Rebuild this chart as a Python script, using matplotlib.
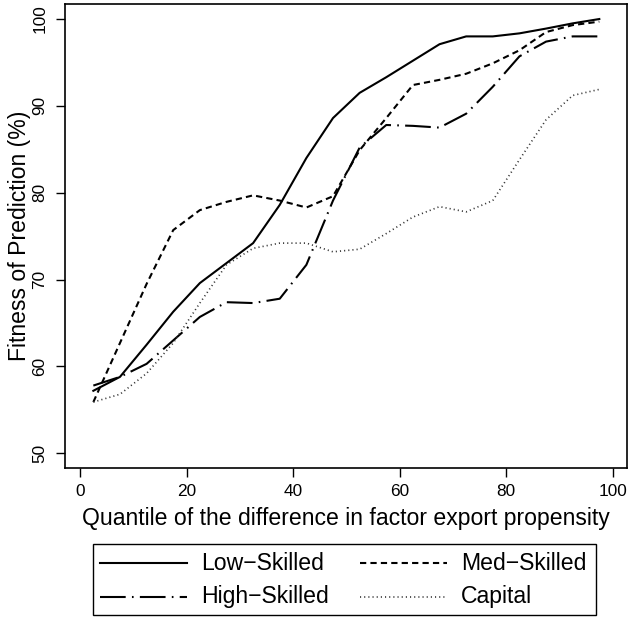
import matplotlib
matplotlib.use("Agg")
import matplotlib.pyplot as plt
from matplotlib.patches import Rectangle

plt.rcParams['font.family'] = ['Liberation Sans', 'DejaVu Sans']
plt.rcParams['lines.scale_dashes'] = False

quantiles = [2.5, 7.5, 12.5, 17.5, 22.5, 27.5, 32.5, 37.5, 42.5, 47.5,
             52.5, 57.5, 62.5, 67.5, 72.5, 77.5, 82.5, 87.5, 92.5, 97.5]
low_skilled = [57.2, 58.8, 62.5, 66.3, 69.6, 71.9, 74.2, 78.6, 84.0, 88.6,
               91.5, 93.3, 95.2, 97.1, 98.0, 98.0, 98.35, 98.9, 99.5, 100.0]
med_skilled = [55.9, 62.7, 69.5, 75.7, 78.0, 78.95, 79.7, 79.1, 78.3, 79.6,
               84.9, 88.6, 92.4, 93.0, 93.7, 94.9, 96.4, 98.5, 99.3, 99.7]
high_skilled = [57.8, 58.8, 60.3, 63.0, 65.7, 67.4, 67.3, 67.8, 71.7, 79.1,
                85.2, 87.8, 87.7, 87.5, 89.1, 92.2, 95.7, 97.4, 98.0, 98.0]
capital = [55.9, 56.8, 59.2, 62.7, 67.3, 71.7, 73.6, 74.2, 74.2, 73.2,
           73.5, 75.3, 77.2, 78.4, 77.8, 79.1, 83.8, 88.4, 91.2, 91.9]

labels = ['Low\u2212Skilled', 'Med\u2212Skilled', 'High\u2212Skilled', 'Capital']
x_ticks = [0, 20, 40, 60, 80, 100]
y_ticks = [50, 60, 70, 80, 90, 100]

W, H = 628, 618
fig = plt.figure(figsize=(W / 100, H / 100), dpi=100)
ax = fig.add_axes([65 / W, (H - 468) / H, (627 - 65) / W, (468 - 4) / H])

lw = 1.5
styles = [
    dict(linestyle='-', color='black', lw=lw),
    dict(linestyle=(0, (4.5, 3.0)), color='black', lw=lw),
    dict(linestyle=(0, (18.5, 4.5, 1.2, 4.5)), color='black', lw=lw),
    dict(linestyle=(0, (0.8, 2.2)), color='#333333', lw=1.2),
]
series = [low_skilled, med_skilled, high_skilled, capital]
for vals, st, lab in zip(series, styles, labels):
    ax.plot(quantiles, vals, label=lab, **st)

ax.set_xlim(-2.82, 102.7)
ax.set_ylim(48.31, 101.73)
ax.set_xticks(x_ticks)
ax.set_yticks(y_ticks)
ax.tick_params(axis='both', direction='out', length=6.3, width=1.0,
               labelsize=12.4, color='black')
ax.tick_params(axis='x', pad=5)
ax.tick_params(axis='y', pad=6.5)
for lab in ax.get_yticklabels():
    lab.set_rotation(90)
    lab.set_va('center')
for sp in ax.spines.values():
    sp.set_linewidth(1.2)

ax.set_xlabel('Quantile of the difference in factor export propensity',
              fontsize=16.6, labelpad=6)
ax.set_ylabel('Fitness of Prediction (%)', fontsize=16.6, labelpad=1)

# legend drawn in a pixel-coordinate panel below the plot
lx0, lx1, ly0, ly1 = 92, 596, 543, 615
lax = fig.add_axes([lx0 / W, (H - ly1) / H, (lx1 - lx0) / W, (ly1 - ly0) / H])
lax.set_xlim(lx0, lx1)
lax.set_ylim(ly1, ly0)
lax.axis('off')
lax.add_patch(Rectangle((lx0 + 0.5, ly0 + 0.5), lx1 - lx0 - 1, ly1 - ly0 - 1,
                        fill=False, edgecolor='black', lw=1.0, clip_on=False))
leg_layout = [(0, 100, 563), (1, 360, 563), (2, 100, 597), (3, 360, 597)]
for idx, hx, hy in leg_layout:
    lax.plot([hx, hx + 87], [hy, hy], **styles[idx])
    lax.text(hx + 101, hy, labels[idx], fontsize=16.6, ha='left', va='center')

fig.savefig('out.png', dpi=100)
